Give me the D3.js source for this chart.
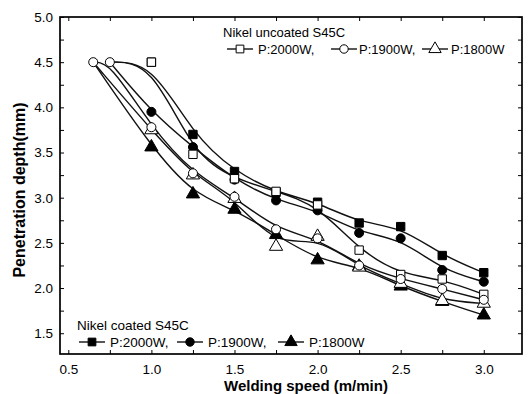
<!DOCTYPE html>
<html>
<head>
<meta charset="utf-8">
<script src="https://cdn.jsdelivr.net/npm/d3@7"></script>
<style>
  body { margin: 0; background: #fff; }
  svg { display: block; font-family: "Liberation Sans", Arial, sans-serif; }
</style>
</head>
<body>
<svg id="chart"></svg>
<script>
// welding speed (m/min)
const speeds = [0.65, 0.75, 1.0, 1.25, 1.5, 1.75, 2.0, 2.25, 2.5, 2.75, 3.0];

// penetration depth (mm), null = not measured
const uncoated2000 = [null, 4.5, 4.5, 3.48, 3.21, 3.07, 2.92, 2.42, 2.15, 2.10, 1.93];
const uncoated1900 = [4.5, 4.5, 3.78, 3.27, 3.01, 2.65, 2.55, 2.25, 2.10, 1.99, 1.87];
const uncoated1800 = [4.5, null, 3.75, 3.25, 2.99, 2.46, 2.57, 2.23, 2.05, 1.86, 1.83];
const coated2000 = [null, 4.5, 4.5, 3.70, 3.29, 3.06, 2.95, 2.72, 2.68, 2.36, 2.17];
const coated1900 = [null, 4.5, 3.95, 3.56, 3.20, 2.97, 2.86, 2.61, 2.55, 2.20, 2.07];
const coated1800 = [4.5, null, 3.56, 3.04, 2.87, 2.59, 2.31, 2.24, 2.02, 1.85, 1.70];

const xTicks = [0.5, 1.0, 1.5, 2.0, 2.5, 3.0];
const yTicks = [1.5, 2.0, 2.5, 3.0, 3.5, 4.0, 4.5, 5.0];
const legendLabels = ['P:2000W,', 'P:1900W,', 'P:1800W'];

class PenetrationChart {

  constructor(_config) {
    this.config = {
      parentElement: _config.parentElement,
      containerWidth: _config.containerWidth || 529,
      containerHeight: _config.containerHeight || 394,
      margin: _config.margin || {top: 17, right: 7, bottom: 40, left: 60}
    }
    this.initVis();
  }

  initVis() {
    let vis = this;

    vis.width = vis.config.containerWidth - vis.config.margin.left - vis.config.margin.right;
    vis.height = vis.config.containerHeight - vis.config.margin.top - vis.config.margin.bottom;

    vis.xScale = d3.scaleLinear()
      .domain([0.45, 3.23])
      .range([0, vis.width]);

    vis.yScale = d3.scaleLinear()
      .domain([1.27, 5.0])
      .range([vis.height, 0]);

    vis.svg = d3.select(vis.config.parentElement)
      .attr('width', vis.config.containerWidth)
      .attr('height', vis.config.containerHeight);

    vis.chart = vis.svg.append('g')
      .attr('transform', `translate(${vis.config.margin.left},${vis.config.margin.top})`);

    // filled ones first so open markers sit on top where they coincide
    vis.series = [
      {values: coated2000, symbol: d3.symbolSquare, size: 70, filled: true, first: 2},
      {values: coated1900, symbol: d3.symbolCircle, size: 64, filled: true, first: 2},
      {values: coated1800, symbol: d3.symbolTriangle, size: 76, filled: true, first: 2},
      {values: uncoated2000, symbol: d3.symbolSquare, size: 70, filled: false, first: 2},
      {values: uncoated1800, symbol: d3.symbolTriangle, size: 76, filled: false, first: 2},
      {values: uncoated1900, symbol: d3.symbolCircle, size: 64, filled: false, first: 0}
    ];

    vis.renderVis();
  }

  renderVis() {
    let vis = this;
    const minor = d3.range(0.5, 3.01, 0.25);
    const minorY = d3.range(1.5, 5.01, 0.25);

    // inward ticks on all four sides
    vis.chart.append('g')
      .attr('transform', `translate(0,${vis.height})`)
      .call(d3.axisBottom(vis.xScale).tickValues(minor).tickSize(-4).tickFormat(''));
    vis.chart.append('g')
      .call(d3.axisTop(vis.xScale).tickValues(minor).tickSize(-4).tickFormat(''));
    vis.chart.append('g')
      .call(d3.axisLeft(vis.yScale).tickValues(minorY).tickSize(-4).tickFormat(''));
    vis.chart.append('g')
      .attr('transform', `translate(${vis.width},0)`)
      .call(d3.axisRight(vis.yScale).tickValues(minorY).tickSize(-4).tickFormat(''));
    vis.chart.selectAll('.domain').remove();

    const xAxisG = vis.chart.append('g')
      .attr('transform', `translate(0,${vis.height})`)
      .call(d3.axisBottom(vis.xScale).tickValues(xTicks).tickSize(0).tickPadding(10)
        .tickFormat(d3.format('.1f')));
    const yAxisG = vis.chart.append('g')
      .call(d3.axisLeft(vis.yScale).tickValues(yTicks).tickSize(0).tickPadding(7)
        .tickFormat(d3.format('.1f')));
    [xAxisG, yAxisG].forEach(g => {
      g.select('.domain').remove();
      g.selectAll('text')
        .attr('font-size', '13.5px')
        .attr('font-family', '"Liberation Sans", Arial, sans-serif')
        .attr('fill', '#000');
    });

    vis.chart.append('rect')
      .attr('width', vis.width)
      .attr('height', vis.height)
      .attr('fill', 'none')
      .attr('stroke', '#000')
      .attr('stroke-width', 1.7);

    // smoothed curves like the original plotting software
    const line = d3.line()
      .x(d => vis.xScale(d.x))
      .y(d => vis.yScale(d.v))
      .curve(d3.curveBasis);

    vis.series.forEach(s => {
      s.points = speeds.map((x, i) => ({x: x, v: s.values[i], i: i}))
        .filter(d => d.v !== null);
    });

    vis.chart.selectAll('.curve')
      .data(vis.series)
      .join('path')
      .attr('class', 'curve')
      .attr('d', s => line(s.points))
      .attr('fill', 'none')
      .attr('stroke', '#111')
      .attr('stroke-width', 1.4);

    vis.series.forEach(s => {
      vis.chart.append('g')
        .selectAll('path')
        .data(s.points.filter(d => d.i >= s.first))
        .join('path')
        .attr('transform', d => `translate(${vis.xScale(d.x)},${vis.yScale(d.v)})`)
        .attr('d', d3.symbol().type(s.symbol).size(s.size))
        .attr('fill', s.filled ? '#000' : '#fff')
        .attr('stroke', '#000')
        .attr('stroke-width', 1);
    });

    // axis titles
    vis.svg.append('text')
      .attr('x', 306)
      .attr('y', 391)
      .attr('text-anchor', 'middle')
      .attr('font-weight', 'bold')
      .attr('font-size', '15px')
      .text('Welding speed (m/min)');

    vis.svg.append('text')
      .attr('transform', 'translate(25,190) rotate(-90)')
      .attr('text-anchor', 'middle')
      .attr('font-weight', 'bold')
      .attr('font-size', '16px')
      .text('Penetration depth(mm)');

    // legends
    vis.drawLegend('Nikel uncoated S45C', 223, 36.5, 49, 13,
      [240, 344, 435], [258, 359, 451], false);
    vis.drawLegend('Nikel coated S45C', 77, 329.5, 342, 13.5,
      [92, 190, 291], [110, 208, 309], true);
  }

  drawLegend(title, x0, titleY, rowY, fontSize, symbolX, textX, filled) {
    let vis = this;
    const types = [d3.symbolSquare, d3.symbolCircle, d3.symbolTriangle];
    const sizes = [60, 56, 66];

    const g = vis.svg.append('g');
    g.append('text')
      .attr('x', x0)
      .attr('y', titleY)
      .attr('font-size', fontSize + 'px')
      .text(title);

    legendLabels.forEach((label, i) => {
      g.append('line')
        .attr('x1', symbolX[i] - 13)
        .attr('x2', symbolX[i] + 13)
        .attr('y1', rowY)
        .attr('y2', rowY)
        .attr('stroke', '#111')
        .attr('stroke-width', 1.4);
      g.append('path')
        .attr('transform', `translate(${symbolX[i]},${rowY})`)
        .attr('d', d3.symbol().type(types[i]).size(sizes[i]))
        .attr('fill', filled ? '#000' : '#fff')
        .attr('stroke', '#000');
      g.append('text')
        .attr('x', textX[i])
        .attr('y', rowY + 4.7)
        .attr('font-size', fontSize + 'px')
        .text(label);
    });
  }
}

new PenetrationChart({parentElement: '#chart'});
</script>
</body>
</html>
